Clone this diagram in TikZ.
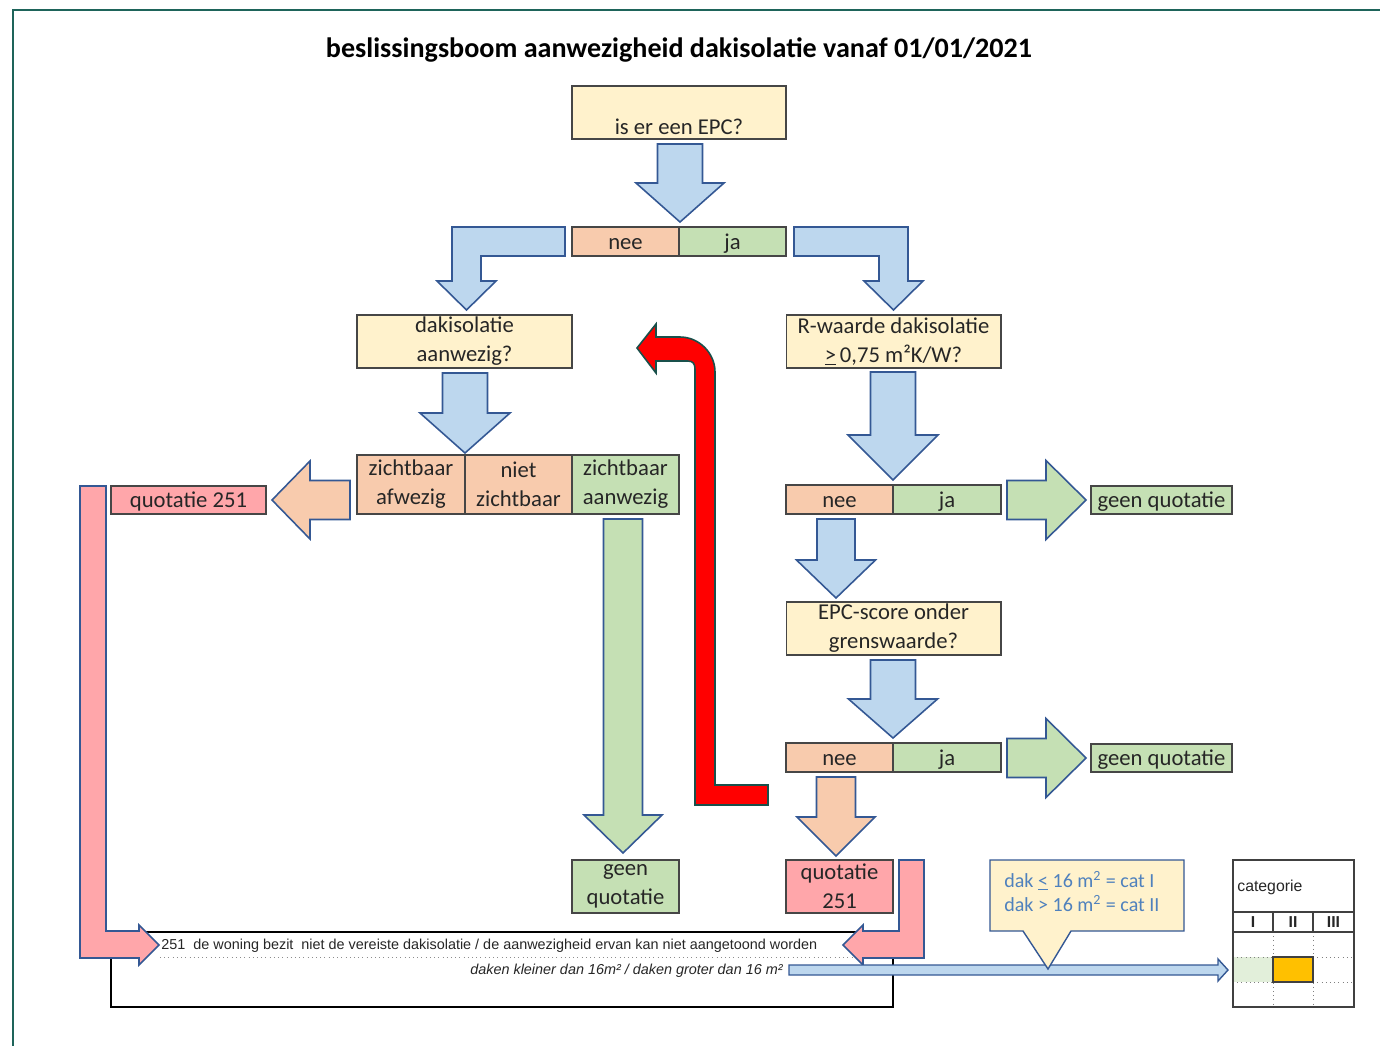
\documentclass[tikz,border=0pt]{standalone}
\usepackage{fontspec}
\setmainfont{Carlito}
\newfontfamily\arialfont{Liberation Sans}
\usepackage{tikz}

\definecolor{qyellow}{RGB}{255,242,204}
\definecolor{peach}{RGB}{248,203,173}
\definecolor{lgreen}{RGB}{197,224,180}
\definecolor{lblue}{RGB}{189,215,238}
\definecolor{arrline}{RGB}{52,88,148}
\definecolor{pinkq}{RGB}{255,166,170}
\definecolor{boxline}{RGB}{70,70,70}
\definecolor{frameteal}{RGB}{30,100,90}
\definecolor{redline}{RGB}{25,80,75}
\definecolor{notetext}{RGB}{79,129,189}
\definecolor{catgreen}{RGB}{226,239,218}
\definecolor{catorange}{RGB}{255,192,0}

\newcommand\boxfont{\fontsize{12.9}{16.5}\selectfont\color{black!85}}
\newcommand\titlefont{\fontsize{16}{19}\selectfont\bfseries}
\newcommand\legendfont{\arialfont\fontsize{8.2}{9.5}\selectfont\color{black!85}}
\newcommand\tabfont{\arialfont\fontsize{9}{11}\selectfont\color{black!85}}
\newcommand\notefont{\fontsize{11.4}{13.7}\selectfont}

\def\arrowdown[#1](#2,#3,#4)(#5:#6:#7){\draw[#1] (#2-#5,#3) -- (#2+#5,#3) -- (#2+#5,#4-#7) -- (#2+#6,#4-#7) -- (#2,#4) -- (#2-#6,#4-#7) -- (#2-#5,#4-#7) -- cycle;}
\def\arrowright[#1](#2,#3,#4)(#5:#6:#7){\draw[#1] (#2,#3-#5) -- (#4-#7,#3-#5) -- (#4-#7,#3-#6) -- (#4,#3) -- (#4-#7,#3+#6) -- (#4-#7,#3+#5) -- (#2,#3+#5) -- cycle;}

\tikzset{
  question/.style={draw=boxline, fill=qyellow, line width=0.6pt, minimum width=4.3cm, minimum height=1.06cm, inner sep=0pt, align=center, font=\boxfont},
  neebox/.style={question, fill=peach, minimum width=2.14cm, minimum height=0.58cm},
  jabox/.style={neebox, fill=lgreen},
  quotebox/.style={neebox, fill=pinkq, minimum height=0.56cm},
  geenbox/.style={neebox, fill=lgreen, minimum width=2.82cm, minimum height=0.56cm},
  oneline/.style={text height=9pt, text depth=0pt},
  blockarrow/.style={draw=arrline, fill=lblue, line width=0.9pt, line join=miter}
}

\begin{document}
\begin{tikzpicture}[x={(0.02cm,0)}, y={(0,-0.02cm)}]
			%%%%% START %%%%%
			\useasboundingbox (0,0) rectangle (1380,1046);
			\draw[line width=1.2pt, color=frameteal] (1380,10) -- (13,10) -- (13,1046);
			
			\node[font=\titlefont] (title) at (679,50) {beslissingsboom aanwezigheid dakisolatie vanaf 01/01/2021};
			
			% vragen en antwoorden
			\node[question, minimum width=4.28cm] (epc) at (679,112.5) {\vphantom{Ep}\\is er een EPC?};
			\node[neebox, oneline] (nee1) at (625.5,241.5) {nee};
			\node[jabox, oneline] (ja1) at (732.5,241.5) {ja};
			
			\node[question] (dak) at (464.5,341.5) {dakisolatie\\aanwezig?};
			\node[question] (rw) at (893.5,341.5) {R-waarde dakisolatie\\\underline{>}\,0,75 m²K/W?};
			
			\node[neebox, minimum width=2.16cm, minimum height=1.18cm] (afw) at (411,484.5) {zichtbaar\\afwezig};
			\node[neebox, minimum height=1.18cm] (nzb) at (518.5,484.5) {niet\\zichtbaar};
			\node[jabox, minimum height=1.18cm] (aanw) at (625.5,484.5) {zichtbaar\\aanwezig};
			\node[quotebox, oneline, minimum width=3.1cm] (quot1) at (188.5,500) {quotatie 251};
			
			\node[neebox, oneline] (nee2) at (839.5,499.5) {nee};
			\node[jabox, oneline, minimum width=2.16cm] (ja2) at (947,499.5) {ja};
			\node[geenbox, oneline] (geen1) at (1161.5,500) {geen quotatie};
			
			\node[question] (epcs) at (893.5,628.5) {EPC-score onder\\grenswaarde?};
			\node[neebox, oneline] (nee3) at (839.5,757.5) {nee};
			\node[jabox, oneline, minimum width=2.16cm] (ja3) at (947,757.5) {ja};
			\node[geenbox, oneline] (geen2) at (1161.5,758) {geen quotatie};
			
			\node[jabox, minimum height=1.06cm] (geen3) at (625.5,886.5) {geen\\quotatie};
			\node[quotebox, minimum height=1.06cm] (quot2) at (839.5,886.5) {quotatie\\251};
			
			% blokpijlen
			\arrowdown[blockarrow](680,144,222)(22.5:44:39)
			\arrowdown[blockarrow](465,373,453)(22.5:45:40)
			\arrowdown[blockarrow](893,372,480)(22.5:45:45)
			\arrowdown[blockarrow](836,519,598)(19:39.5:38)
			\arrowdown[blockarrow](893,660,738)(22.5:44.5:39)
			\arrowdown[blockarrow, fill=peach](836,777,856)(19.5:39:39)
			\arrowdown[blockarrow, fill=lgreen](623,519,853)(19.5:39:38)
			\arrowright[blockarrow, fill=lgreen](1007,500,1086)(19.5:39.5:40)
			\arrowright[blockarrow, fill=lgreen](1007,758,1086)(19.5:39.5:40)
			\draw[blockarrow, fill=peach] (350,480.5) -- (310,480.5) -- (310,461) -- (272,500) -- (310,539) -- (310,519.5) -- (350,519.5) -- cycle;
			
			\draw[blockarrow] (565,227) -- (452,227) -- (452,281) -- (437,281) -- (466.5,310) -- (496,281) -- (481,281) -- (481,256) -- (565,256) -- cycle;
			\draw[blockarrow] (794,227) -- (908,227) -- (908,281) -- (923,281) -- (893.5,310) -- (864,281) -- (879,281) -- (879,256) -- (794,256) -- cycle;
			
			% rode terugpijl
			\draw[line width=0.9pt, draw=redline, fill=red, line join=miter] (637,348) -- (656,324) -- (656,337) -- (680,337) .. controls (699,337) and (715,353) .. (715,372) -- (715,785) -- (768,785) -- (768,805) -- (695,805) -- (695,369) .. controls (695,364) and (693,361) .. (688,361) -- (656,361) -- (656,373) -- cycle;
			
			% legende onderaan
			\node[draw=black, line width=1.1pt, minimum width=15.64cm, minimum height=1.5cm, inner sep=0pt] (legend) at (502,969.5) {};
			\node[anchor=base west, inner sep=0pt, font=\legendfont] (leg1) at (161,949) {251\ \ de woning bezit\ \ niet de vereiste dakisolatie / de aanwezigheid ervan kan niet aangetoond worden};
			\draw[dotted, color=black!45] (160,957) -- (893,957);
			\node[anchor=base east, inner sep=0pt, font=\legendfont\itshape] (leg2) at (783,974) {daken kleiner dan 16m² / daken groter dan 16 m²};
			
			\draw[blockarrow, fill=pinkq] (80,486) -- (106,486) -- (106,931) -- (139,931) -- (139,925) -- (159,945) -- (139,965) -- (139,958) -- (80,958) -- cycle;
			\draw[blockarrow, fill=pinkq] (924,860) -- (899,860) -- (899,931) -- (863,931) -- (863,925) -- (843,945) -- (863,965) -- (863,958) -- (924,958) -- cycle;
			
			\draw[blockarrow, line width=0.8pt] (789,965) -- (1218,965) -- (1218,959) -- (1228,970) -- (1218,981) -- (1218,975) -- (789,975) -- cycle;
			
			% categorie
			\draw[line width=0.8pt, draw=arrline, fill=qyellow, line join=miter] (990,860) -- (1184,860) -- (1184,931) -- (1071,931) -- (1048,969) -- (1023,931) -- (990,931) -- cycle;
			\node[anchor=base west, inner sep=0pt, font=\notefont, text=notetext] (note1) at (1004,887) {dak \underline{<} 16 m\textsuperscript{2} = cat I};
			\node[anchor=base west, inner sep=0pt, font=\notefont, text=notetext] (note2) at (1004,911) {dak > 16 m\textsuperscript{2} = cat II};
			
			\fill[catgreen] (1233,957) rectangle (1273,982);
			\draw[dotted, color=black!50] (1233,957) -- (1354,957) (1233,982) -- (1354,982) (1273,932) -- (1273,1007) (1313,932) -- (1313,1007);
			\draw[line width=0.6pt, color=black!75] (1233,860) rectangle (1354,1007);
			\draw[line width=0.6pt, color=black!75] (1233,912) -- (1354,912) (1233,932) -- (1354,932) (1273,912) -- (1273,932) (1313,912) -- (1313,932);
			\draw[line width=0.6pt, draw=black!75, fill=catorange] (1273,957) rectangle (1313,982);
			
			\node[anchor=base west, inner sep=0pt, font=\tabfont] (cattitle) at (1237,891) {categorie};
			\node[font=\tabfont\bfseries] (cat1) at (1253,922) {I};
			\node[font=\tabfont\bfseries] (cat2) at (1293,922) {II};
			\node[font=\tabfont\bfseries] (cat3) at (1333.5,922) {III};
			%%%%% END %%%%%
\end{tikzpicture}
\end{document}
